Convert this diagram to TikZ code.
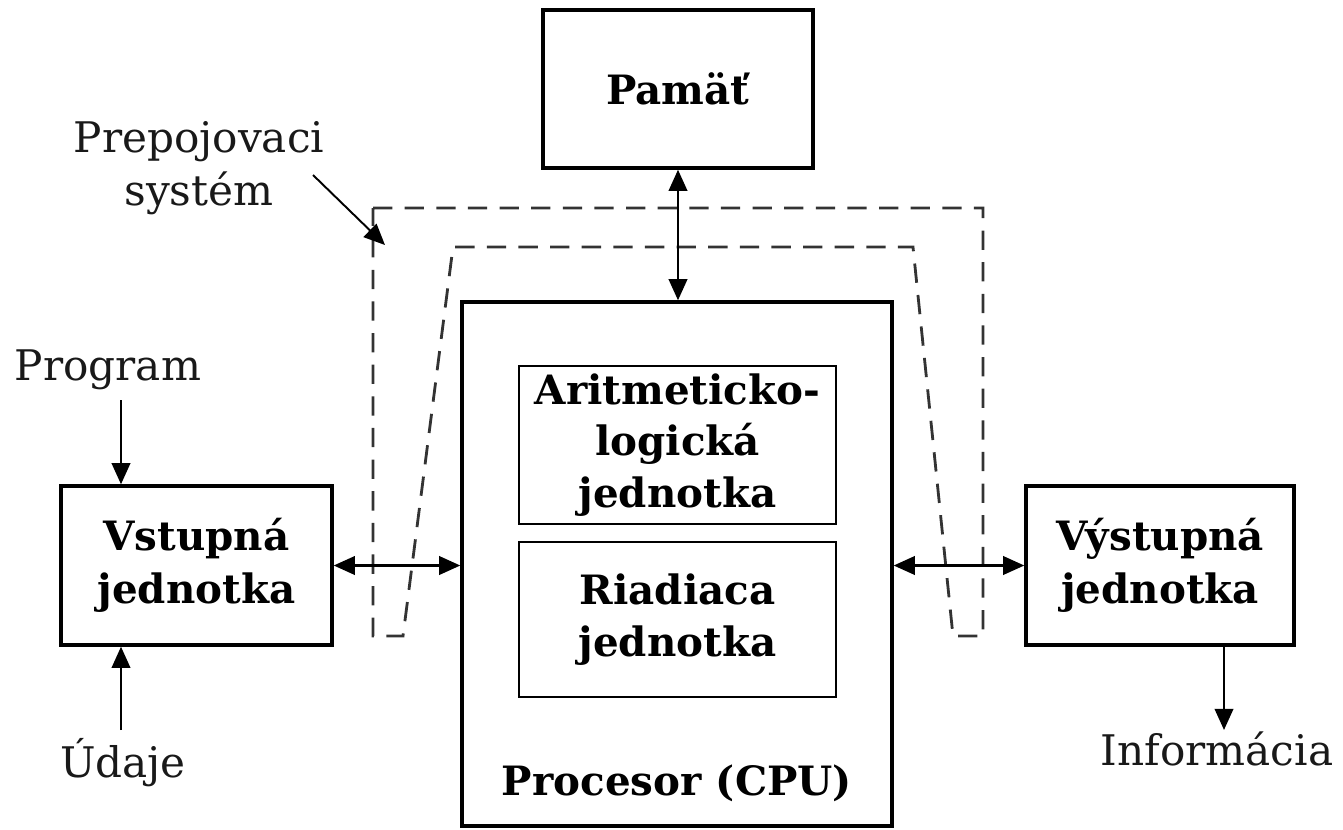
\documentclass[tikz,border=0pt]{standalone}
\usepackage{fontspec}
\setmainfont{DejaVu Serif}
\usetikzlibrary{arrows.meta}
\begin{document}
\begin{tikzpicture}[x=0.02cm,y=-0.02cm,
  txt/.style={font=\fontsize{24}{30}\selectfont,inner sep=0pt,align=center,text=black!90},
  box/.style={draw,line width=2pt,inner sep=0pt,align=center,font=\bfseries\fontsize{23}{30}\selectfont},
  ibox/.style={draw,line width=1.6pt,inner sep=0pt,align=center,font=\bfseries\fontsize{23}{29.5}\selectfont},
  tip/.tip={Triangle[length=12pt,width=10.5pt]},
  arr/.style={line width=1.3pt,-tip},
  darr/.style={line width=1.3pt,tip-tip},
  bus/.style={draw=black!80,line width=1.6pt,dash pattern=on 11pt off 7pt}]
\useasboundingbox (0,0) rectangle (1343,829);
% interconnect (dashed)
\draw[bus] (373,208) -- (983,208) -- (983,636) -- (953,636) -- (913,247) -- (453,247) -- (403,636) -- (373,636) -- cycle;
% boxes
\node[box,minimum width=5.4cm,minimum height=3.16cm] (mem) at (678,89) {Pamäť};
\node[box,minimum width=8.6cm,minimum height=10.48cm] (cpu) at (677,564) {};
\node[ibox,minimum width=6.34cm,minimum height=3.16cm] (alu) at (677.5,445) {Aritmeticko-\\logická\\jednotka};
\node[ibox,minimum width=6.34cm,minimum height=3.1cm] (cu) at (677.5,619.5) {Riadiaca\\jednotka};
\node[font=\bfseries\fontsize{23}{30}\selectfont,inner sep=0pt,anchor=base] (cpulbl) at (677,795) {Procesor (CPU)};
\node[box,minimum width=5.42cm,minimum height=3.18cm] (in) at (196.5,565.5) {Vstupná\\jednotka};
\node[box,minimum width=5.36cm,minimum height=3.18cm] (out) at (1160,565.5) {Výstupná\\jednotka};
% labels
\node[txt,anchor=base] (prog) at (108,380) {Program};
\node[txt,anchor=base] (data) at (123,777) {Údaje};
\node[txt,anchor=base] (info) at (1217,765) {Informácia};
\node[txt] (prep) at (199,168) {Prepojovaci\\systém};
% connectors
\coordinate (progend) at (121,400);
\coordinate (dataend) at (121,730);
\coordinate (infoend) at (1224,730);
\coordinate (prepa) at (313,175);
\coordinate (prepb) at (385,245);
\draw[arr] (progend) -- (progend |- in.north);
\draw[arr] (dataend) -- (dataend |- in.south);
\draw[arr] (infoend |- out.south) -- (infoend);
\draw[line width=1.1pt,-tip] (prepa) -- (prepb);
\draw[darr] (mem.south) -- (mem.south |- cpu.north);
\draw[darr] (in.east) -- (in.east -| cpu.west);
\draw[darr] (cpu.east |- out.west) -- (out.west);
\end{tikzpicture}
\end{document}
